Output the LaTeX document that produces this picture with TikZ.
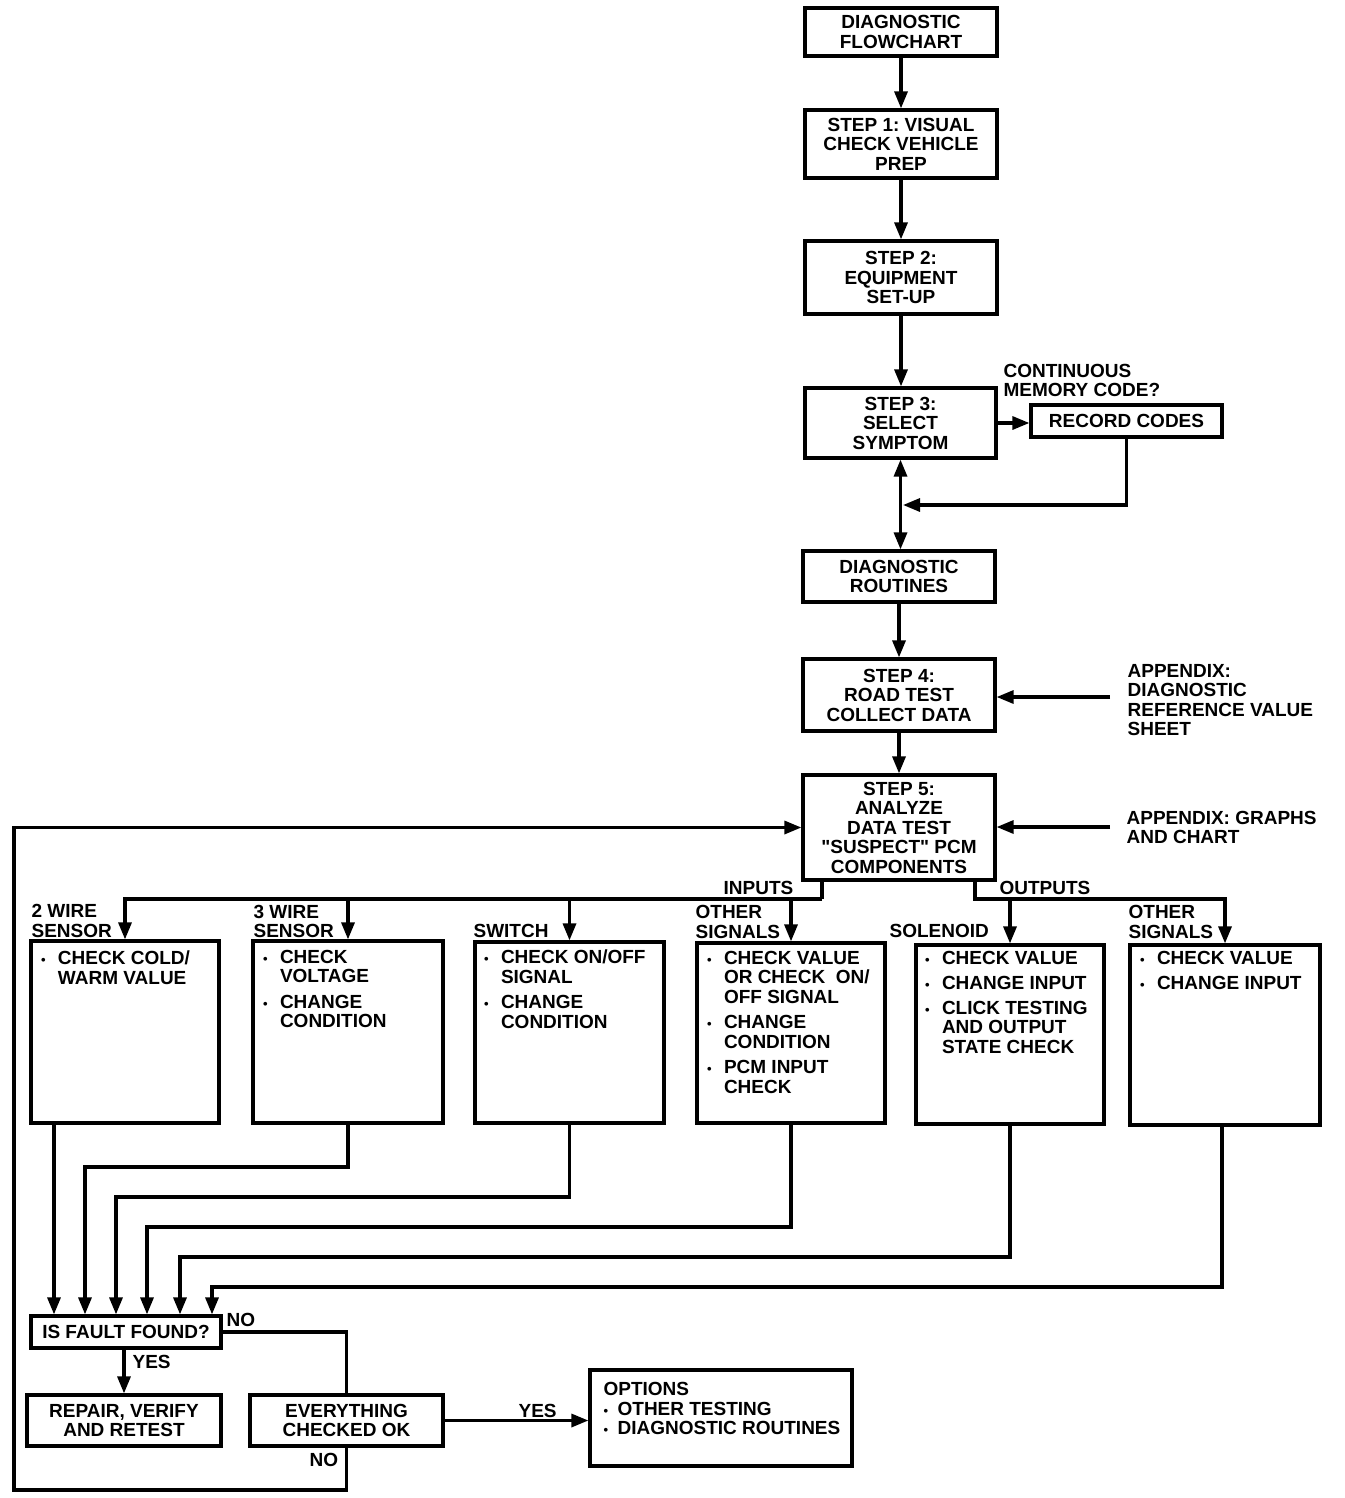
\documentclass[tikz,border=0pt]{standalone}
\usepackage{fontspec}
\setmainfont{Liberation Sans}[Ligatures=TeXOff]
\usetikzlibrary{arrows.meta}
\newcommand\fs{\fontsize{19}{19.5}\selectfont\bfseries}
\newcommand\bul[1][17pt]{\makebox[#1][l]{\fontsize{13}{13}\selectfont\textbullet}}
\newcommand\ind[1][17pt]{\hspace*{#1}}
\frenchspacing
\begin{document}
\begin{tikzpicture}[x=1pt,y=-1pt,line width=3.2pt,line join=miter,
  box/.style={draw,line width=3.2pt,inner sep=0pt,font=\fs,align=center},
  lbl/.style={inner sep=0pt,font=\fs,align=left},
  arr/.style={-{Triangle[length=17pt,width=13pt]}},
  darr/.style={{Triangle[length=17pt,width=13pt]}-{Triangle[length=17pt,width=13pt]}}]
\fill[white] (0,0) rectangle (1344,1498);
\useasboundingbox (0,0) rectangle (1344,1498);

% main chain
\node[box,minimum width=192pt,minimum height=48pt] (flow) at (901,32) {DIAGNOSTIC\\FLOWCHART};
\node[box,minimum width=192pt,minimum height=68pt] (s1) at (901,144) {STEP 1: VISUAL\\CHECK VEHICLE\\PREP};
\node[box,minimum width=192pt,minimum height=73pt] (s2) at (901,277.5) {STEP 2:\\EQUIPMENT\\SET-UP};
\node[box,minimum width=191pt,minimum height=70pt] (s3) at (900.5,423) {STEP 3:\\SELECT\\SYMPTOM};
\node[box,minimum width=191pt,minimum height=32pt] (rec) at (1126.5,421) {RECORD CODES};
\node[box,minimum width=192pt,minimum height=51pt] (rout) at (899,576.5) {DIAGNOSTIC\\ROUTINES};
\node[box,minimum width=192pt,minimum height=72pt] (s4) at (899,695) {STEP 4:\\ROAD TEST\\COLLECT DATA};
\node[box,minimum width=192pt,minimum height=105pt] (s5) at (899,827.5) {STEP 5:\\ANALYZE\\DATA TEST\\"SUSPECT" PCM\\COMPONENTS};

\node[lbl,anchor=west] (cmc) at (1002,380.5) {CONTINUOUS\\MEMORY CODE?};
\node[lbl,anchor=west] (ap1t) at (1126,700) {APPENDIX:\\DIAGNOSTIC\\REFERENCE VALUE\\SHEET};
\node[lbl,anchor=west] (ap2t) at (1125,827.5) {APPENDIX: GRAPHS\\AND CHART};
\coordinate (ap1) at (1110,697);
\coordinate (ap2) at (1110,827);

\draw[arr] (flow.south) -- (flow.south |- s1.north);
\draw[arr] (s1.south) -- (s1.south |- s2.north);
\draw[arr] (s2.south) -- (s2.south |- s3.north);
\draw[arr] (s3.east) -- (s3.east -| rec.west);
\coordinate (jn) at (903,505);
\draw[arr] (rec.south) |- (jn);
\draw[darr] (s3.south) -- (s3.south |- rout.north);
\draw[arr] (rout.south) -- (rout.south |- s4.north);
\draw[arr] (s4.south) -- (s4.south |- s5.north);
\draw[arr] (ap1) -- (ap1 -| s4.east);
\draw[arr] (ap2) -- (ap2 -| s5.east);

% branch boxes
\node[box,minimum width=188pt,minimum height=182pt] (b1) at (125,1032) {};
\node[box,minimum width=190pt,minimum height=182pt] (b2) at (348,1032) {};
\node[box,minimum width=189pt,minimum height=181pt] (b3) at (569.5,1032.5) {};
\node[box,minimum width=188pt,minimum height=180pt] (b4) at (791,1033) {};
\node[box,minimum width=188pt,minimum height=179pt] (b5) at (1010,1034.5) {};
\node[box,minimum width=190pt,minimum height=180pt] (b6) at (1225,1035) {};

\node[lbl,anchor=north west] (t1) at ([shift={(10,10)}]b1.north west) {\bul CHECK COLD/\\\ind WARM VALUE};
\node[lbl,anchor=north west] (t2) at ([shift={(10,9)}]b2.north west) {\bul CHECK\\\ind VOLTAGE\\[6pt]\bul CHANGE\\\ind CONDITION};
\node[lbl,anchor=north west] (t3) at ([shift={(9,8)}]b3.north west) {\bul CHECK ON/OFF\\\ind SIGNAL\\[6pt]\bul CHANGE\\\ind CONDITION};
\node[lbl,anchor=north west] (t4) at ([shift={(10,8)}]b4.north west) {\bul CHECK VALUE\\\ind OR CHECK\ \ ON/\\\ind OFF SIGNAL\\[6pt]\bul CHANGE\\\ind CONDITION\\[6pt]\bul PCM INPUT\\\ind CHECK};
\node[lbl,anchor=north west] (t5) at ([shift={(9,6)}]b5.north west) {\bul CHECK VALUE\\[5.5pt]\bul CHANGE INPUT\\[5.5pt]\bul CLICK TESTING\\\ind AND OUTPUT\\\ind STATE CHECK};
\node[lbl,anchor=north west] (t6) at ([shift={(10,6)}]b6.north west) {\bul CHECK VALUE\\[5.5pt]\bul CHANGE INPUT};

\node[lbl,anchor=west] (l1) at (30,921) {2 WIRE\\SENSOR};
\node[lbl,anchor=west] (l2) at (252,921.5) {3 WIRE\\SENSOR};
\node[lbl,anchor=west] (l3) at (472,931) {SWITCH};
\node[lbl,anchor=west] (l4) at (694,922) {OTHER\\SIGNALS};
\node[lbl,anchor=west] (l5) at (888,931) {SOLENOID};
\node[lbl,anchor=west] (l6) at (1127,922) {OTHER\\SIGNALS};
\node[lbl,anchor=west] (inp) at (722,888) {INPUTS};
\node[lbl,anchor=west] (outp) at (998,888) {OUTPUTS};

% inputs / outputs distribution
\coordinate (inj) at (822,899);
\coordinate (outj) at (975,899);
\draw (inj |- s5.south) -- (inj);
\draw[arr] (inj) -| (b1.north);
\draw[arr] (b2.north |- inj) -- (b2.north);
\draw[arr] (b3.north |- inj) -- (b3.north);
\draw[arr] (b4.north |- inj) -- (b4.north);
\draw[arr] (outj |- s5.south) |- (b6.north |- outj) -- (b6.north);
\draw[arr] (b5.north |- outj) -- (b5.north);

% lower part
\node[box,minimum width=190pt,minimum height=32pt] (fault) at (126,1332) {IS FAULT FOUND?};
\node[box,minimum width=194pt,minimum height=51pt] (rep) at (124,1420.5) {REPAIR, VERIFY\\AND RETEST};
\node[box,minimum width=193pt,minimum height=51pt] (every) at (346.5,1420.5) {EVERYTHING\\CHECKED OK};
\node[box,minimum width=262pt,minimum height=96pt] (opts) at (721,1418) {};
\node[lbl,anchor=north west] (optt) at (602,1381) {OPTIONS\\\bul[14pt]OTHER TESTING\\\bul[14pt]DIAGNOSTIC ROUTINES};

\coordinate (r1) at (54,1160);
\coordinate (r2) at (85,1167);
\coordinate (r3) at (116,1197);
\coordinate (r4) at (147,1227);
\coordinate (r5) at (180,1257);
\coordinate (r6) at (212,1287);
\draw[arr] (r1 |- b1.south) -- (r1 |- fault.north);
\draw[arr] (b2.south) |- (r2) -- (r2 |- fault.north);
\draw[arr] (b3.south) |- (r3) -- (r3 |- fault.north);
\draw[arr] (b4.south) |- (r4) -- (r4 |- fault.north);
\draw[arr] (b5.south) |- (r5) -- (r5 |- fault.north);
\draw[arr] ([xshift=-3pt]b6.south) |- (r6) -- (r6 |- fault.north);

\draw (fault.east) -| (every.north);
\node[lbl,anchor=west] (no1) at (225,1320) {NO};
\draw[arr] (fault.south -| rep.north) -- (rep.north);
\node[lbl,anchor=west] (yes1) at (131,1362) {YES};
\draw[arr] (every.east) -- (every.east -| opts.west);
\node[lbl,anchor=west] (yes2) at (517,1411) {YES};
\node[lbl,anchor=west] (no2) at (308,1460) {NO};
\coordinate (lp) at (14,1490);
\draw[arr] (every.south) |- (lp) |- (s5.west);
\end{tikzpicture}
\end{document}
